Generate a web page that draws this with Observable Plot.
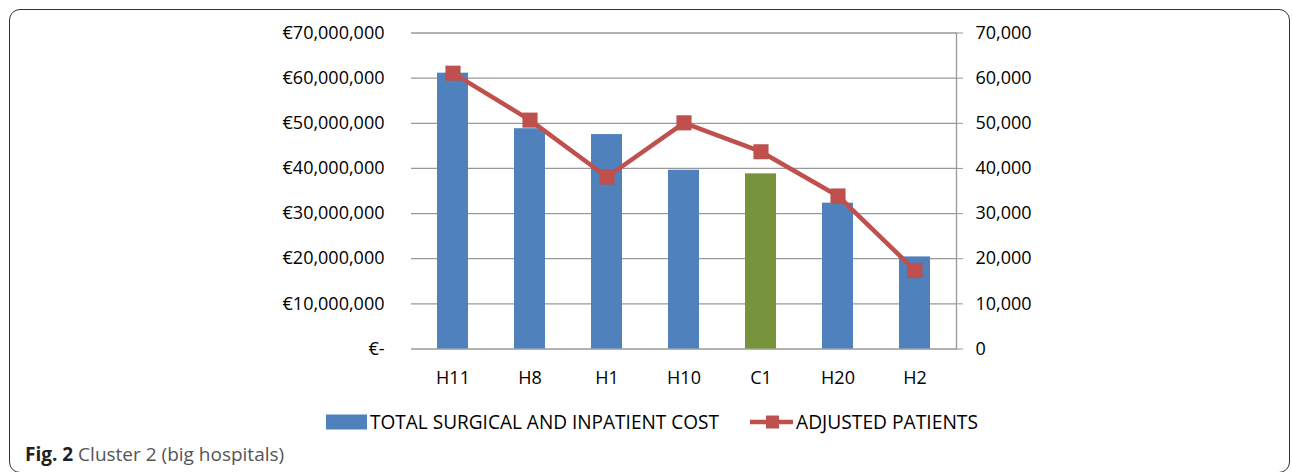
<!DOCTYPE html>
<html>
<head>
<meta charset="utf-8">
<script src="https://cdn.jsdelivr.net/npm/d3@7"></script>
<script src="https://cdn.jsdelivr.net/npm/@observablehq/plot@0.6"></script>
<style>
  html, body { margin: 0; padding: 0; background: #fff; }
  #wrap { position: relative; width: 1292px; height: 472px; overflow: hidden; font-family: "Open Sans", sans-serif; }
  #chart { position: absolute; left: 0; top: 0; }
  #legend { position: absolute; left: 0; top: 400px; }
  #frame { position: absolute; left: 9px; top: 8.5px; width: 1279px; height: 462px; border: 1.5px solid #333; border-radius: 11px; pointer-events: none; }
</style>
</head>
<body>
<div id="wrap">
  <div id="chart"></div>
  <svg id="legend" width="1292" height="72" xmlns="http://www.w3.org/2000/svg"></svg>
  <div id="frame"></div>
</div>
<script>
// ---- data ----
const categories = ["H11", "H8", "H1", "H10", "C1", "H20", "H2"];
const costs = [61100000, 48800000, 47500000, 39600000, 38800000, 32300000, 20400000];
const patients = [61100, 50700, 38100, 50100, 43700, 33900, 17400];
const highlighted = ["C1"];
const costTicks = [0, 10000000, 20000000, 30000000, 40000000, 50000000, 60000000, 70000000];
const patientTicks = [0, 10000, 20000, 30000, 40000, 50000, 60000, 70000];
const legendLabels = ["TOTAL SURGICAL AND INPATIENT COST", "ADJUSTED PATIENTS"];
const captionBold = "Fig. 2";
const captionText = " Cluster 2 (big hospitals)";

// ---- styling ----
const BLUE = "#4F81BD", GREEN = "#77933C", RED = "#C0504D", GRID = "#999999";
const ratio = costTicks[costTicks.length - 1] / patientTicks[patientTicks.length - 1];

const table = categories.map((c, i) => ({cat: c, cost: costs[i], patients: patients[i]}));

const fmt = d3.format(",");
const plot = Plot.plot({
  width: 1292,
  height: 400,
  marginLeft: 411,
  marginRight: 336,
  marginTop: 32.5,
  marginBottom: 51.5,
  style: {fontFamily: "'Open Sans', sans-serif", fontSize: "18px", color: "#000", background: "transparent", overflow: "visible"},
  x: {domain: categories, paddingInner: 0.6, paddingOuter: 0.3, label: null},
  y: {domain: [0, costTicks[costTicks.length - 1]], label: null},
  marks: [
    Plot.gridY(costTicks, {stroke: GRID, strokeOpacity: 1, strokeWidth: 1.3}),
    Plot.barY(table, {x: "cat", y: "cost", fill: d => highlighted.includes(d.cat) ? GREEN : BLUE}),
    Plot.line(table, {x: "cat", y: d => d.patients * ratio, stroke: RED, strokeWidth: 4.5}),
    Plot.dot(table, {x: "cat", y: d => d.patients * ratio, symbol: "square", r: 8.2, fill: RED, stroke: "#b9504d", strokeWidth: 0.5}),
    Plot.axisY(costTicks, {anchor: "left", tickSize: 0, tickPadding: 27, label: null,
      tickFormat: d => d === 0 ? "€-" : "€" + fmt(d)}),
    Plot.axisY(patientTicks.map(d => d * ratio), {anchor: "right", tickSize: 6, tickPadding: 13, stroke: GRID, label: null,
      tickFormat: d => fmt(d / ratio)}),
    Plot.axisX({tickSize: 0, tickPadding: 22, label: null}),
    Plot.frame({anchor: "right", stroke: GRID, strokeWidth: 1.3})
  ]
});
document.getElementById("chart").appendChild(plot);

// ---- legend & caption ----
const svg = d3.select("#legend");
svg.append("rect").attr("x", 326).attr("y", 14.5).attr("width", 41).attr("height", 15).attr("fill", BLUE);
svg.append("text").attr("x", 370).attr("y", 29).attr("font-size", 19.5)
  .attr("textLength", 349).attr("lengthAdjust", "spacingAndGlyphs")
  .attr("font-family", "'Open Sans', sans-serif").attr("fill", "#000").text(legendLabels[0]);
svg.append("line").attr("x1", 750).attr("x2", 793).attr("y1", 22).attr("y2", 22)
  .attr("stroke", RED).attr("stroke-width", 4.5);
svg.append("rect").attr("x", 766).attr("y", 15.5).attr("width", 13).attr("height", 13).attr("fill", RED);
svg.append("text").attr("x", 796).attr("y", 29).attr("font-size", 19.5)
  .attr("textLength", 182).attr("lengthAdjust", "spacingAndGlyphs")
  .attr("font-family", "'Open Sans', sans-serif").attr("fill", "#000").text(legendLabels[1]);

const cap = svg.append("text").attr("x", 25).attr("y", 60.7).attr("font-size", 19)
  .attr("font-family", "'Open Sans', sans-serif");
cap.append("tspan").attr("font-weight", "bold").attr("fill", "#231f20").text(captionBold);
cap.append("tspan").attr("fill", "#555").text(captionText);
</script>
</body>
</html>
